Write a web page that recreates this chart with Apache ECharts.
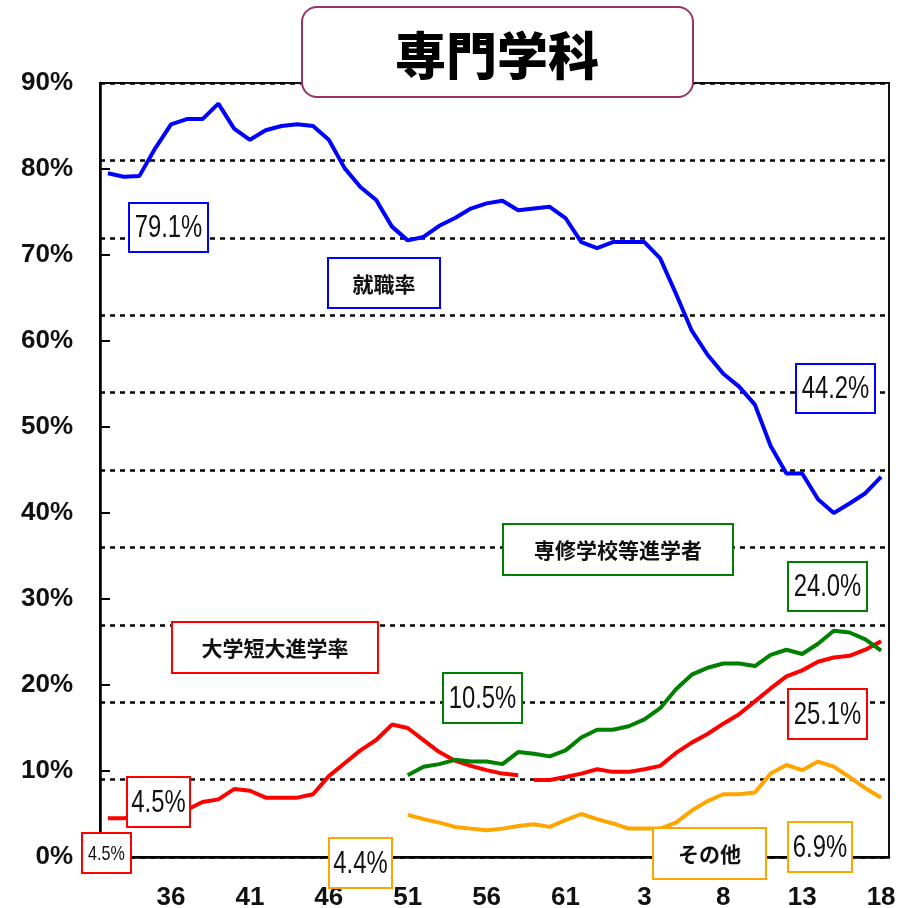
<!DOCTYPE html>
<html>
<head>
<meta charset="utf-8">
<script src="https://cdn.jsdelivr.net/npm/echarts@6/dist/echarts.min.js"></script>
<style>
  html, body { margin: 0; padding: 0; background: #fff; }
  #chart { width: 910px; height: 908px; }
</style>
</head>
<body>
<div id="chart"></div>
<script>
// School years: Showa 32-63, then Heisei 1-18
const years = ['32','33','34','35','36','37','38','39','40','41','42','43','44','45','46','47',
  '48','49','50','51','52','53','54','55','56','57','58','59','60','61','62','63',
  '1','2','3','4','5','6','7','8','9','10','11','12','13','14','15','16','17','18'];

// 就職率 (%)
const employRate = [79.5, 79.1, 79.2, 82.4, 85.2, 85.8, 85.8, 87.6, 84.7, 83.4,
  84.5, 85.0, 85.2, 85.0, 83.4, 80.1, 77.9, 76.4, 73.3, 71.7,
  72.1, 73.4, 74.3, 75.4, 76.0, 76.3, 75.2, 75.4, 75.6, 74.3,
  71.5, 70.8, 71.5, 71.5, 71.5, 69.6, 65.5, 61.2, 58.4, 56.2,
  54.7, 52.6, 47.8, 44.6, 44.6, 41.6, 40.0, 41.1, 42.3, 44.2];

// 大学短大進学率 (%): earlier definition (S32-S58) and later one (S59-H18)
const univRateOld = [4.5, 4.5, 4.7, 5.0, 5.3, 5.5, 6.4, 6.7, 7.9, 7.7,
  6.9, 6.9, 6.9, 7.3, 9.4, 10.9, 12.4, 13.6, 15.4, 15.0,
  13.6, 12.2, 11.2, 10.6, 10.1, 9.7, 9.5];
const univRateNew = [8.95, 8.95, 9.3, 9.7, 10.2, 9.9, 9.9, 10.2, 10.6, 12.1,
  13.3, 14.3, 15.5, 16.6, 18.1, 19.6, 21.0, 21.7, 22.7, 23.2,
  23.4, 24.1, 25.1];

// 専修学校等進学者 (%), from S51
const vocSchool = [9.5, 10.5, 10.8, 11.3, 11.1, 11.1, 10.8, 12.2, 12.0, 11.7,
  12.4, 13.9, 14.8, 14.8, 15.2, 16.0, 17.3, 19.5, 21.2, 22.0,
  22.5, 22.5, 22.2, 23.5, 24.1, 23.6, 24.8, 26.3, 26.1, 25.3, 24.0];

// その他 (%), from S51
const others = [4.9, 4.4, 4.0, 3.5, 3.3, 3.1, 3.3, 3.6, 3.8, 3.5,
  4.3, 5.0, 4.4, 3.9, 3.3, 3.3, 3.3, 4.0, 5.4, 6.5,
  7.3, 7.3, 7.5, 9.7, 10.7, 10.1, 11.1, 10.5, 9.3, 8.0, 6.9];

const yTicks = [0, 10, 20, 30, 40, 50, 60, 70, 80, 90];

const N = years.length;
const padFront = arr => Array(N - arr.length).fill(null).concat(arr);
const padBack = arr => arr.concat(Array(N - arr.length).fill(null));
const pct = v => v.toFixed(1) + '%';

const BLUE = '#0000FF', RED = '#FF0000', GREEN = '#008000', ORANGE = '#FFA500';
const NUM_FONT = "'Liberation Sans', Arial, sans-serif";
const JP_FONT = "'Noto Sans CJK JP', 'Noto Sans', sans-serif";

// framed caption: white box with coloured border; narrow=true squeezes the text horizontally
function box(x, y, w, h, color, text, size, font, weight, narrow) {
  return {
    type: 'group', z: 100,
    children: [
      { type: 'rect', shape: { x: x, y: y, width: w, height: h },
        style: { fill: '#fff', stroke: color, lineWidth: 2 }, z: 100 },
      { type: 'text', x: x + w / 2, y: y + h / 2 + 1, z: 101,
        scaleX: narrow ? 0.77 : 1,
        style: { text: text, fill: '#111', font: (weight || 'normal') + ' ' + size + 'px ' + font,
          textAlign: 'center', textVerticalAlign: 'middle' } }
    ]
  };
}

function lineSeries(name, data, color) {
  return {
    name: name, type: 'line', data: data, showSymbol: false, symbol: 'none',
    connectNulls: false, animation: false,
    lineStyle: { color: color, width: 4 }, z: 5
  };
}

const chart = echarts.init(document.getElementById('chart'), null, { renderer: 'canvas' });

chart.setOption({
  backgroundColor: '#fff',
  animation: false,
  grid: { left: 100, top: 83, right: 21, bottom: 51, show: true,
    containLabel: false, outerBoundsMode: 'none',
    borderColor: '#111', borderWidth: 2, backgroundColor: 'transparent' },
  xAxis: {
    type: 'category', data: years, boundaryGap: true,
    axisLine: { lineStyle: { color: '#000', width: 2.5 } },
    axisTick: { inside: true, length: 7, interval: 0, lineStyle: { color: '#000', width: 2 } },
    axisLabel: {
      interval: (idx) => (idx - 4) % 5 === 0 && idx >= 4,
      margin: 28, color: '#111',
      fontFamily: "'Liberation Sans', Arial, sans-serif", fontWeight: 'bold', fontSize: 26
    },
    splitLine: { show: false }
  },
  yAxis: [
    {
      type: 'value', min: 0, max: 90, interval: 10,
      axisLine: { show: true, lineStyle: { color: '#000', width: 2.5 } },
      axisTick: { show: true, inside: true, length: 10, lineStyle: { color: '#000', width: 2 } },
      axisLabel: {
        margin: 27, color: '#111',
        fontFamily: "'Liberation Sans', Arial, sans-serif", fontWeight: 'bold', fontSize: 26,
        formatter: v => (yTicks.indexOf(v) >= 0 ? v + '%' : '')
      },
      splitLine: { show: false }
    },
    {
      // dotted guide lines dividing the plot into ten bands
      type: 'value', min: 0, max: 10, interval: 1, position: 'left',
      axisLine: { show: false }, axisTick: { show: false }, axisLabel: { show: false },
      splitLine: { show: true, lineStyle: { color: '#000', width: 2.5, type: [5, 5] } }
    }
  ],
  series: [
    lineSeries('就職率', employRate, BLUE),
    lineSeries('大学短大進学率', padBack(univRateOld), RED),
    lineSeries('大学短大進学率', padFront(univRateNew), RED),
    lineSeries('専修学校等進学者', padFront(vocSchool), GREEN),
    lineSeries('その他', padFront(others), ORANGE)
  ],
  graphic: [
    // title plate
    { type: 'rect', z: 100, shape: { x: 302, y: 7, width: 391, height: 90, r: 15 },
      style: { fill: '#fff', stroke: '#993366', lineWidth: 2 } },
    { type: 'text', z: 101, x: 497, y: 56,
      style: { text: '専門学科', fill: '#000', font: '900 51px ' + JP_FONT,
        textAlign: 'center', textVerticalAlign: 'middle' } },

    box(129, 203, 79, 49, BLUE, pct(employRate[1]), 31, NUM_FONT, 'normal', true),
    box(328, 258, 112, 50, BLUE, '就職率', 21, JP_FONT, 'bold'),
    box(796, 364, 79, 49, BLUE, pct(employRate[N - 1]), 31, NUM_FONT, 'normal', true),

    box(503, 524, 230, 51, GREEN, '専修学校等進学者', 21, JP_FONT, 'bold'),
    box(788, 562, 79, 49, GREEN, pct(vocSchool[vocSchool.length - 1]), 31, NUM_FONT, 'normal', true),
    box(443, 673, 79, 50, GREEN, pct(vocSchool[1]), 31, NUM_FONT, 'normal', true),

    box(172, 622, 206, 51, RED, '大学短大進学率', 21, JP_FONT, 'bold'),
    box(788, 689, 79, 50, RED, pct(univRateNew[univRateNew.length - 1]), 31, NUM_FONT, 'normal', true),
    box(127, 777, 63, 50, RED, pct(univRateOld[1]), 31, NUM_FONT, 'normal', true),
    box(82, 833, 49, 40, RED, pct(univRateOld[0]), 21, NUM_FONT, 'normal', true),

    box(329, 838, 63, 50, ORANGE, pct(others[1]), 31, NUM_FONT, 'normal', true),
    box(653, 828, 113, 51, ORANGE, 'その他', 21, JP_FONT, 'bold'),
    box(788, 822, 64, 50, ORANGE, pct(others[others.length - 1]), 31, NUM_FONT, 'normal', true)
  ]
});
</script>
</body>
</html>
